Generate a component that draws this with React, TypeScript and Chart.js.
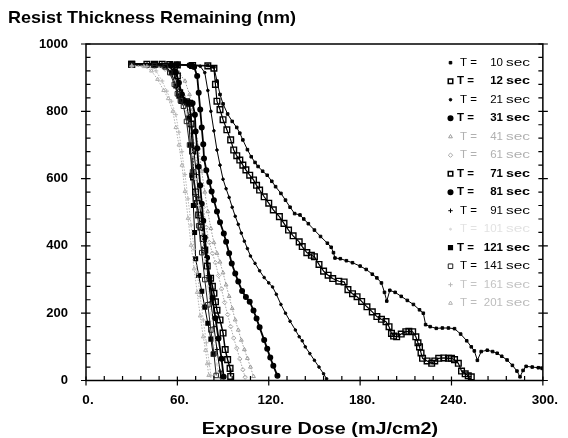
import React, { useEffect, useRef } from 'react';
import { Chart, registerables } from 'chart.js';
import { drawPoint } from 'chart.js/helpers';

Chart.register(...registerables);

const FONT = '"Liberation Sans", Arial, Helvetica, sans-serif';

const chartTitle = 'Resist Thickness Remaining (nm)';
const xAxisTitle = 'Exposure Dose (mJ/cm2)';
const xTickValues = [0, 60, 120, 180, 240, 300];
const yTickValues = [0, 200, 400, 600, 800, 1000];

// bake times shown in the legend (sec)
const times = ['10', '12', '21', '31', '41', '61', '71', '81', '91', '101', '121', '141', '161', '201'];

// [dose mJ/cm2, thickness nm]
const t10 = [[30,940],[40,940],[50,940],[60,939],[70,938],[80,936],[84,932],[86,890],[88,850],[90,822],[93,792],[96,770],[99,752],[101,735],[103,715],[106,686],[108.5,665],[111,648],[113,636],[116,622],[119,610],[122,592],[124.5,576],[128,556],[131,536],[134,515],[137,496],[140.5,492],[143,480],[146,466],[150,447],[154,428],[158.5,408],[161,396],[162.5,380],[163.5,364],[167,362],[171,356],[175,350],[180,340],[184,330],[188,316],[191,305],[194,290],[196,262],[197.5,236],[199.5,268],[203,262],[207,250],[211,238],[215,226],[219,210],[221.5,200],[223,166],[226,160],[230,155],[234,156],[238,156],[242,154],[246,138],[250,118],[253,100],[255,88],[257,60],[259.5,86],[263.5,90],[267,86],[270,81],[273,72],[276.5,61],[280,45],[283,28],[285,11],[287,30],[289,42],[293,40],[297,38],[299.5,36]];
const t12 = [[30,940],[40,940],[50,940],[60,938],[70,936],[80,935],[84,928],[85,880],[86,830],[88,805],[90,775],[92.5,745],[95,715],[97,685],[99,668],[101,655],[103,640],[105,626],[107.5,610],[110,596],[112,580],[114,566],[117,546],[120,527],[123,507],[127,487],[130,467],[133,447],[136,430],[140,412],[142,398],[145,380],[148,372],[150,368],[153,345],[156,325],[159,313],[162,303],[166,295],[169.5,293],[172,270],[175,258],[178,249],[181,235],[184.5,219],[188,204],[191,190],[194,182],[197,175],[199,160],[200.6,140],[202,132],[204,130],[207,138],[210,145],[212,146],[214.5,145],[216.6,130],[218,112],[219,100],[220,82],[221,66],[224,58],[227,51],[229,58],[231.6,66],[235,67],[238,66],[240,66],[242,62],[244.5,51],[246.6,28],[249,20],[251,14],[253,11]];
const t21 = [[30,940],[45,940],[60,939],[70,938],[75,934],[78,915],[80,862],[82,800],[84,742],[86,685],[88,640],[90,598],[92,570],[94,544],[96,515],[98,488],[100,464],[102,438],[104,414],[106,392],[108,370],[111,348],[114,326],[117,306],[120,290],[122.5,278],[125,256],[128,226],[131,200],[134,176],[137.5,150],[140,130],[142,118],[144,100],[147,80],[150,60],[153,40],[156,20],[158,5]];
const t31 = [[30,940],[45,940],[60,939],[68,937],[71,932],[73,905],[74,855],[75,805],[76,752],[77,702],[77.5,660],[79,625],[81,590],[82.5,562],[84,536],[86,502],[88,470],[90.5,437],[92,412],[94,378],[95.7,348],[98,318],[100,294],[102.5,266],[105,248],[107.5,234],[110,208],[112,184],[114,158],[117,120],[119,94],[121,68],[123,44],[125.7,14]];
const t41 = [[30,935],[45,934],[55,930],[61,915],[65,890],[68,850],[70,805],[72,745],[74,690],[76,622],[78,560],[80,502],[82,452],[84,410],[86,378],[88,352],[90,320],[92,284],[94,250],[96,214],[98,180],[100,150],[102,120],[104,92],[106,66],[108,40],[110,12]];
const t61 = [[30,935],[45,934],[52,925],[57,905],[61,875],[64,845],[67,800],[69,755],[71,700],[73,640],[75,575],[77,515],[79,455],[81,410],[83,378],[85,350],[87,312],[89,272],[91,232],[93,196],[95,160],[97,126],[99,96],[101,64],[103,32],[104.5,10]];
const t71 = [[30,940],[45,940],[55,939],[58,932],[60,905],[61.5,855],[63,832],[66,828],[68,824],[69,762],[70,682],[70.6,605],[72,560],[73,526],[74,492],[75.5,456],[77,422],[78,388],[79.6,340],[81.8,304],[83,280],[84,259],[85,234],[86,209],[88,180],[90,141],[91.4,92],[93,62],[94.6,36],[95,12]];
const t81 = [[30,940],[45,940],[56,938],[59,915],[61,885],[63,850],[65,830],[70,824],[71.5,790],[72,740],[73,690],[74,635],[75,580],[76,525],[77,475],[78,425],[79.5,365],[81,305],[83,245],[85,185],[87,125],[89,65],[90.4,11]];
const t91 = [[30,938],[45,938],[54,936],[58,915],[60,880],[62,845],[64,828],[67,826],[69,790],[70,735],[71,675],[72.5,612],[74,545],[76,470],[78,392],[80,312],[82,234],[84,160],[86,92],[88,28],[88.6,8]];
const t101 = [[30,935],[45,934],[53,930],[57,905],[60,870],[63,835],[66,790],[68,740],[70,670],[72,598],[74,520],[76,440],[78,360],[80,280],[82,200],[84,122],[86,48],[87,12]];
const t121 = [[30,938],[45,938],[52,935],[56,915],[59,875],[61,845],[63,830],[66,826],[67.5,780],[68.5,700],[69.5,610],[70.5,520],[71.3,440],[72,362],[74,312],[76,265],[78,218],[80,170],[82,123],[83.5,78]];
const t141 = [[30,937],[45,936],[52,932],[55,915],[58,880],[60,852],[62,832],[64,815],[66,770],[68,700],[70,620],[72,540],[74,460],[76,380],[78,300],[80,225],[82,150],[84,80],[85.5,15]];
const t161 = [[30,935],[40,934],[46,920],[50,890],[53,860],[56,830],[59,790],[61,738],[63,680],[65,612],[67,540],[69,462],[71,390],[73,320],[75,250],[77,180],[79,112],[81,50],[82,14]];
const t201 = [[30,935],[38,933],[43,920],[47,895],[51,862],[54,838],[57,800],[59,752],[61,700],[63,640],[65,562],[67,482],[69,402],[71,332],[73,262],[75,192],[77,130],[78.5,90],[79.6,50],[80.6,15]];

const seriesData = [t10, t12, t21, t31, t41, t61, t71, t81, t91, t101, t121, t141, t161, t201];

type Style = { color: string; width: number; dash: number[]; point: string; radius: number; fill: boolean; bold: boolean; text: string };
const styles: Style[] = [
  { color: '#000', width: 1, dash: [], point: 'rect', radius: 1.8, fill: true, bold: false, text: '#000' },
  { color: '#000', width: 1.2, dash: [], point: 'rect', radius: 4, fill: false, bold: true, text: '#000' },
  { color: '#000', width: 1, dash: [], point: 'circle', radius: 1.3, fill: true, bold: false, text: '#000' },
  { color: '#000', width: 1.8, dash: [], point: 'circle', radius: 2.3, fill: true, bold: true, text: '#000' },
  { color: '#9c9c9c', width: 1, dash: [1.5, 1.5], point: 'triangle', radius: 2.2, fill: false, bold: false, text: '#b0b0b0' },
  { color: '#a8a8a8', width: 1, dash: [1.5, 1.5], point: 'rectRot', radius: 2.2, fill: false, bold: false, text: '#b0b0b0' },
  { color: '#000', width: 1.5, dash: [], point: 'rect', radius: 4, fill: false, bold: true, text: '#000' },
  { color: '#000', width: 1.8, dash: [], point: 'circle', radius: 2.3, fill: true, bold: true, text: '#000' },
  { color: '#000', width: 1, dash: [], point: 'cross', radius: 2.2, fill: false, bold: false, text: '#000' },
  { color: '#dadada', width: 1, dash: [1.5, 1.5], point: 'circle', radius: 1, fill: true, bold: false, text: '#e2e2e2' },
  { color: '#000', width: 1, dash: [], point: 'rect', radius: 2.6, fill: true, bold: true, text: '#000' },
  { color: '#222', width: 1, dash: [], point: 'rect', radius: 3.2, fill: false, bold: false, text: '#000' },
  { color: '#b8b8b8', width: 1, dash: [1.5, 1.5], point: 'cross', radius: 2.2, fill: false, bold: false, text: '#c4c4c4' },
  { color: '#b0b0b0', width: 1, dash: [1.5, 1.5], point: 'triangle', radius: 2.2, fill: false, bold: false, text: '#bcbcbc' },
];

function fitText(ctx: CanvasRenderingContext2D, text: string, x: number, y: number, width: number, font: string, baseline: CanvasTextBaseline = 'alphabetic') {
  ctx.font = font;
  const w = ctx.measureText(text).width;
  ctx.save();
  ctx.translate(x, y);
  ctx.scale(width / w, 1);
  ctx.textAlign = 'left';
  ctx.textBaseline = baseline;
  ctx.fillText(text, 0, 0);
  ctx.restore();
}

const overlay = {
  id: 'overlay',
  afterDraw(chart: any) {
    const { ctx, chartArea } = chart;
    const { left, right, top, bottom } = chartArea;
    const xs = chart.scales.x;
    const ys = chart.scales.y;
    ctx.save();
    ctx.strokeStyle = '#000';
    ctx.lineWidth = 1.5;
    ctx.setLineDash([]);
    ctx.strokeRect(left, top, right - left, bottom - top);
    ctx.lineWidth = 1.2;
    ctx.beginPath();
    for (let v = 0; v <= 300; v += 12) {
      const px = xs.getPixelForValue(v);
      const major = v % 60 === 0;
      ctx.moveTo(px, bottom - (major ? 4 : 4.5));
      ctx.lineTo(px, bottom + (major ? 5 : 0));
    }
    for (let v = 0; v <= 1000; v += 40) {
      const py = ys.getPixelForValue(v);
      const major = v % 200 === 0;
      ctx.moveTo(left - (major ? 5 : 0), py);
      ctx.lineTo(left + 4.5, py);
      ctx.moveTo(right - 4.5, py);
      ctx.lineTo(right + (major ? 5 : 0), py);
    }
    ctx.stroke();

    ctx.fillStyle = '#000';
    fitText(ctx, chartTitle, 8, 23, 288, `bold 17px ${FONT}`);
    fitText(ctx, xAxisTitle, 201.7, 433.5, 236.5, `bold 17px ${FONT}`);

    // legend inside plot
    times.forEach((t, i) => {
      const st = styles[i];
      const cy = 62.7 + i * 18.5;
      ctx.save();
      ctx.strokeStyle = st.color;
      ctx.fillStyle = st.fill ? st.color : '#fff';
      ctx.lineWidth = st.bold ? 1.5 : 1;
      drawPoint(ctx, { pointStyle: st.point, radius: Math.min(st.radius, 3.2), rotation: 0, borderWidth: ctx.lineWidth } as any, 450.5, cy);
      ctx.restore();
      const f = `${st.bold ? 'bold ' : ''}11.5px ${FONT}`;
      ctx.font = f;
      ctx.fillStyle = st.text;
      ctx.textBaseline = 'middle';
      ctx.textAlign = 'left';
      ctx.fillText('T =', st.bold ? 457 : 460, cy);
      ctx.textAlign = 'right';
      ctx.fillText(t, 503, cy);
      fitText(ctx, 'sec', 506, cy, 24, f, 'middle');
    });
    ctx.restore();
  },
};

export default function App() {
  const ref = useRef<HTMLCanvasElement>(null);
  useEffect(() => {
    if (!ref.current) return;
    const datasets = seriesData.map((d, i) => {
      const st = styles[i];
      return {
        label: `T= ${times[i]} sec`,
        data: d.map(([x, y]) => ({ x, y })),
        showLine: true,
        borderColor: st.color,
        borderWidth: st.width,
        borderDash: st.dash,
        pointStyle: st.point,
        pointRadius: st.radius,
        pointBorderWidth: st.bold ? 1.4 : 1,
        pointBorderColor: st.color,
        pointBackgroundColor: st.fill ? st.color : 'rgba(255,255,255,0)',
        tension: 0,
        order: 14 - i,
      };
    });
    const chart = new Chart(ref.current, {
      type: 'scatter',
      data: { datasets },
      options: {
        animation: false,
        responsive: false,
        devicePixelRatio: 1,
        layout: { padding: { left: 0, right: 15, top: 44, bottom: 0 } },
        plugins: { legend: { display: false }, tooltip: { enabled: false }, title: { display: false } },
        scales: {
          x: {
            type: 'linear',
            min: 0,
            max: 300,
            afterBuildTicks: (s: any) => { s.ticks = xTickValues.map((v) => ({ value: v })); },
            afterFit: (s: any) => { s.height = 57.5; },
            grid: { display: false, drawTicks: false },
            border: { display: false },
            ticks: {
              color: '#000',
              font: { family: FONT, size: 13.5, weight: 'bold' },
              padding: 12,
              labelOffset: 2,
              maxRotation: 0,
              autoSkip: false,
              callback: (v: any) => `${v}.`,
            },
          },
          y: {
            type: 'linear',
            min: 0,
            max: 1000,
            afterBuildTicks: (s: any) => { s.ticks = yTickValues.map((v) => ({ value: v })); },
            afterFit: (s: any) => { s.width = 86; },
            grid: { display: false, drawTicks: false },
            border: { display: false },
            ticks: {
              color: '#000',
              font: { family: FONT, size: 13, weight: 'bold' },
              padding: 18,
              autoSkip: false,
              callback: (v: any) => `${v}`,
            },
          },
        },
      },
      plugins: [overlay],
    } as any);
    return () => chart.destroy();
  }, []);
  return (
    <div style={{ position: 'fixed', left: 0, top: 0, width: 568, height: 438, background: '#fff' }}>
      <canvas ref={ref} width={568} height={438} style={{ display: 'block' }} />
    </div>
  );
}
